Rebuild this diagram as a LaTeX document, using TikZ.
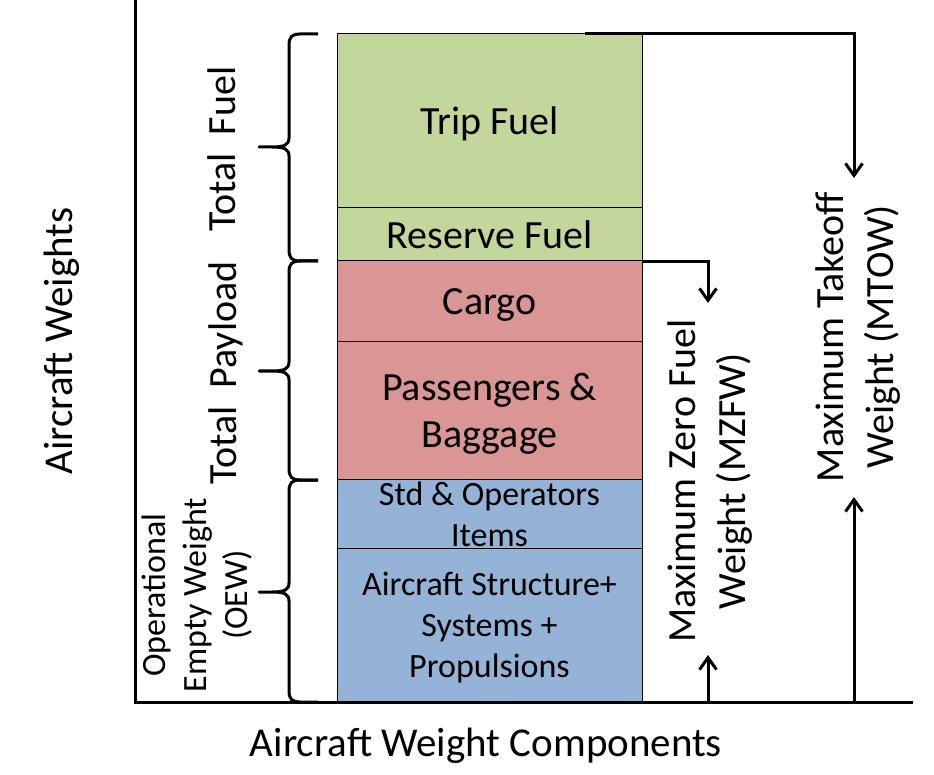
\documentclass[tikz,border=0pt]{standalone}
\usepackage{fontspec}
\setmainfont{Carlito}
\usepackage{tikz}
\usetikzlibrary{arrows.meta}
\definecolor{fuelgreen}{HTML}{C3D69B}
\definecolor{loadred}{HTML}{D99694}
\definecolor{emptyblue}{HTML}{95B3D7}

\begin{document}
\begin{tikzpicture}[x = 1pt, y = -1pt, line width = 3pt,
  cell/.style = {draw, line width = 1pt, minimum width = 305pt, inner sep = 0pt, text depth = 0pt, align = center, font = \fontsize{40}{47}\selectfont},
  smalltext/.style = {font = \fontsize{34}{41}\selectfont},
  lbl/.style = {inner sep = 0pt, align = center, font = \fontsize{40}{50}\selectfont},
  arr/.style = {-{Straight Barb[length = 12pt, width = 17pt]}}]
\useasboundingbox (0, 0) rectangle (934, 775);
% weight blocks
\node[cell, fill = fuelgreen, minimum height = 173.5pt] (trip) at (489.5, 120.75) {Trip Fuel};
\node[cell, fill = fuelgreen, minimum height = 53.5pt] (reserve) at (489.5, 234.25) {Reserve Fuel};
\node[cell, fill = loadred, minimum height = 81pt] (cargo) at (489.5, 301.5) {Cargo};
\node[cell, fill = loadred, minimum height = 137.5pt] (pax) at (489.5, 410.75) {Passengers \&\\Baggage};
\node[cell, smalltext, fill = emptyblue, minimum height = 69pt] (std) at (489.5, 514) {Std \& Operators\\Items};
\node[cell, smalltext, fill = emptyblue, minimum height = 153.5pt] (struct) at (489.5, 625.25) {Aircraft Structure+\\Systems +\\Propulsions};
% axes
\coordinate (O) at (135, 702);
\coordinate (ytop) at (135, 0);
\coordinate (xend) at (913, 702);
\draw (ytop) -- (O) -- (xend);
\node[lbl, rotate = 90, font = \fontsize{41}{50}\selectfont] (ylabel) at (62, 341) {Aircraft Weights};
\node[lbl, anchor = base, font = \fontsize{41}{50}\selectfont] (xlabel) at (486, 756) {Aircraft Weight Components};
% braces
\foreach \ya/\ym/\yb in {34/147/261, 261/371/480, 480/592/702}{\draw[line join = round] (318, \ya) -- (300, \ya) .. controls (292, \ya) and (289, \ya + 3) .. (289, \ya + 11) -- (289, \ym - 9) .. controls (289, \ym - 2) and (284, \ym) .. (272, \ym) -- (259, \ym) -- (272, \ym) .. controls (284, \ym) and (289, \ym + 2) .. (289, \ym + 9) -- (289, \yb - 11) .. controls (289, \yb - 3) and (292, \yb) .. (300, \yb) -- (318, \yb);}
\node[lbl, rotate = 90] (fuel) at (222, 149) {Total\hspace{.45em}Fuel};
\node[lbl, rotate = 90] (payload) at (226, 373) {Total\hspace{.45em}Payload};
\node[lbl, smalltext, rotate = 90] (oew) at (197, 595) {Operational\\Empty Weight\\(OEW)};
% limits
\coordinate (mtowstart) at (585, 34);
\coordinate (mtowtip) at (854, 178);
\coordinate (mtowfoot) at (854, 702);
\coordinate (mtowhead) at (854, 497);
\draw[arr] (mtowstart) -| (mtowtip);
\draw[arr] (mtowfoot) -- (mtowhead);
\node[lbl, rotate = 90] (mtow) at (858, 337) {Maximum Takeoff\\Weight (MTOW)};
\coordinate (mzfwtip) at (708, 303);
\coordinate (mzfwfoot) at (708, 702);
\coordinate (mzfwhead) at (708, 655);
\draw[arr] (reserve.south east) -| (mzfwtip);
\draw[arr] (mzfwfoot) -- (mzfwhead);
\node[lbl, rotate = 90] (mzfw) at (710, 481) {Maximum Zero Fuel\\Weight (MZFW)};
\end{tikzpicture}
\end{document}
